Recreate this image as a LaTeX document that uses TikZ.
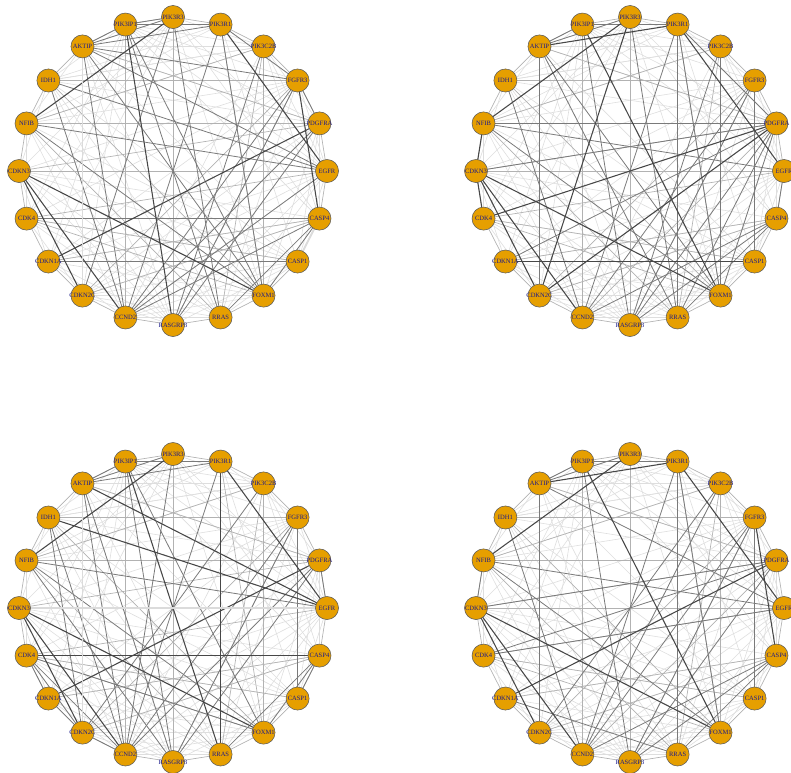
\documentclass[tikz,border=0pt]{standalone}
\usepackage{fontspec}
\setmainfont{Liberation Serif}
\pgfdeclarelayer{bg}
\pgfsetlayers{bg,main}
\definecolor{nodeor}{HTML}{E69F00}
\definecolor{lab}{HTML}{1A1A8B}
\tikzset{
  gnode/.style={circle,fill=nodeor,draw=black!65,line width=0.4pt,minimum size=17.3pt,inner sep=0pt,
    font=\fontsize{4.9}{5}\selectfont,text=lab},
  ea/.style={draw=black!13,line width=0.45pt},
  eb/.style={draw=black!30,line width=0.5pt},
  ec/.style={draw=black!52,line width=0.6pt},
  ed/.style={draw=black!72,line width=0.8pt},
  ew/.style={draw=black!14,line width=1.4pt},
}
% shared edge sets
\def\lightset{0/2,1/3,2/4,3/5,4/6,5/7,6/8,7/9,9/11,10/12,11/13,12/14,13/15,14/16,15/17,16/18,17/19,18/0,19/1,
17/2,17/4,16/3,15/3,14/3,14/7,14/9,13/5,13/6,13/8,12/5,12/6,12/7,12/9,11/7,11/8,10/7,9/3,8/0,7/1,7/18,6/0,6/19,
5/19,5/0,4/18,4/19,3/17,3/19,2/16,2/17,2/18,1/16,1/17,0/15,0/13,19/12,19/14,18/10,18/9,17/10,17/9,16/10,16/11,
15/9,15/10,14/10,13/10,12/8,11/5,10/5,9/5,8/4,7/4,6/2,5/2,2/19,0/14,19/13,17/7,16/7,15/6,15/7,13/3,12/4,11/2,10/0}
\def\midset{0/1,1/2,2/3,3/4,4/5,5/6,6/7,7/8,8/9,9/10,10/11,11/12,12/13,13/14,14/15,15/16,16/17,17/18,18/19,19/0,
16/4,15/5,2/8,17/8,16/9,14/8,13/6,12/3,11/4,10/3,9/2,8/1,19/11,18/4,17/3,16/2,0/10,5/14,4/15,7/14,6/12}
\newcommand\drawpanel[5]{%
  \foreach \lab [count=\k from 0] in {PIK3R3,PIK3R1,PIK3C2B,FGFR3,PDGFRA,EGFR,CASP4,CASP1,FOXM1,RRAS,
    RASGRP3,CCND2,CDKN2C,CDKN1A,CDK4,CDKN3,NFIB,IDH1,AKTIP,PIK3IP1}
    \node[gnode] (#1-\k) at ({#2+154*cos(90-18*\k)},{#3-154*sin(90-18*\k)}) {\makebox[0pt]{\lab}};
  \begin{pgfonlayer}{bg}
    \foreach \a/\b in \lightset \draw[ea] (#1-\a.center) -- (#1-\b.center);
    \foreach \a/\b in \midset \draw[eb] (#1-\a.center) -- (#1-\b.center);
    \foreach \a/\b in {#4} \draw[ec] (#1-\a.center) -- (#1-\b.center);
    \foreach \a/\b in {#5} \draw[ed] (#1-\a.center) -- (#1-\b.center);
  \end{pgfonlayer}}
\begin{document}
\begin{tikzpicture}[x=0.75pt,y=-0.75pt]
\useasboundingbox (0,0) rectangle (791,772);
% panel 1
\drawpanel{A}{173}{171}{1/11,18/5,18/1,19/9,17/5,16/5,16/8,6/9,6/8,6/11,3/11,3/10,4/10,2/10,1/8,0/9,0/12,17/11,
  18/11,18/8,18/19,19/1,0/18,3/4,1/3,19/8,18/3,0/19,4/11,5/11,14/6,13/7}
  {15/8,13/4,16/0,19/10,1/5,15/12,15/11,3/6}
\begin{pgfonlayer}{bg}
\draw[ew] (A-18.center) -- (A-12.center);
\draw[ew] (A-6.center) -- (A-7.center);
\end{pgfonlayer}
% panel 2
\drawpanel{B}{630}{171}{1/9,18/12,2/8,3/7,5/6,4/13,19/10,1/4,1/11,6/9,6/11,6/10,18/8,18/9,3/11,19/1,18/19,0/18,
  16/5,16/8,17/11,3/10,2/10,4/10,4/9,4/8,1/8,0/9,4/16,4/15}
  {15/8,13/7,16/15,15/14,4/14,4/12,0/12,16/0,19/8,15/12,15/11,18/1,1/5}
% panel 3
\drawpanel{C}{173}{608}{19/10,19/8,6/9,6/8,16/5,16/8,17/11,14/8,3/11,3/10,4/10,18/1,18/19,19/1,0/18,18/11,18/10,
  1/11,0/11,3/7,6/7,14/13,14/12,14/11,13/12,12/11,2/12,4/11,5/4,16/10,17/12}
  {14/6,15/8,17/5,18/5,16/0,1/9,13/4,1/5,15/12,15/11,19/9}
\begin{pgfonlayer}{bg}
\draw[ew] (C-18.center) -- (C-12.center);
\draw[ew] (C-15.center) -- (C-5.center);
\end{pgfonlayer}
% panel 4
\drawpanel{D}{630}{608}{16/15,18/12,1/9,19/10,18/5,6/9,6/11,2/11,2/12,1/11,3/7,19/1,18/19,0/18,17/11,16/8,16/5,
  3/11,3/10,4/10,14/5,14/4,15/4,6/10,1/8,13/9}
  {15/8,13/4,16/0,19/8,1/5,3/6,15/12,15/11,18/1}
\end{tikzpicture}
\end{document}
